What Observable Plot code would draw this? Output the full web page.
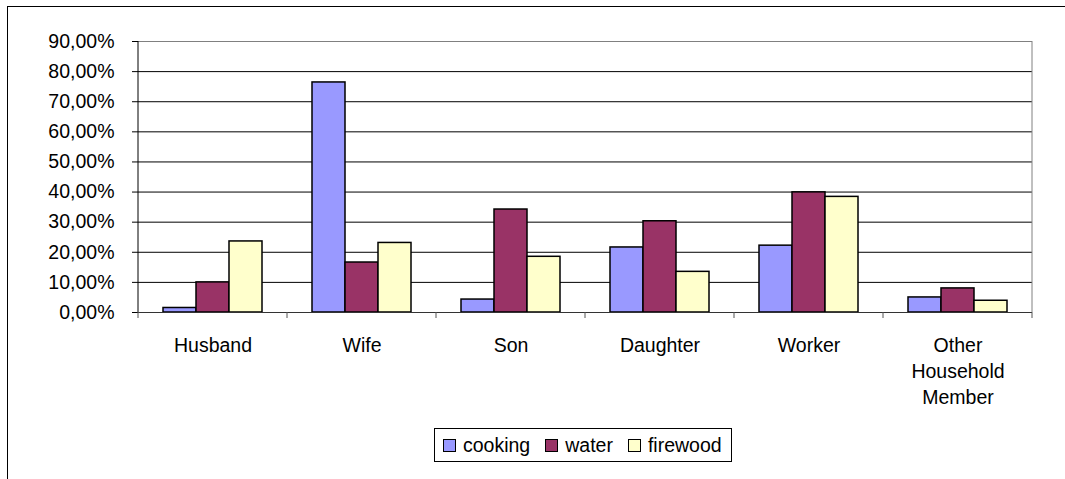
<!DOCTYPE html>
<html><head><meta charset="utf-8">
<script src="https://cdn.jsdelivr.net/npm/d3@7"></script>
<script src="https://cdn.jsdelivr.net/npm/@observablehq/plot@0.6"></script>
<style>
body{margin:0;background:#fff;font-family:"Liberation Sans",Arial,sans-serif;color:#000;}
#frame{position:absolute;left:7px;top:6px;width:1100px;height:500px;border:1px solid #000;}
#chart{position:absolute;left:0;top:0;}
#legend{position:absolute;left:434px;top:428px;width:298px;height:34px;border:1px solid #000;box-sizing:border-box;display:flex;align-items:center;padding-left:8px;font-size:19.5px;background:#fff;}
.item{display:flex;align-items:center;margin-right:15px;}
.sw{width:11px;height:11px;border:1px solid #000;margin-right:7px;}
</style></head><body>
<div id="frame"></div><div id="chart"></div><div id="legend"></div>
<script>
const categories = ["Husband","Wife","Son","Daughter","Worker","Other Household Member"];
const seriesNames = ["cooking","water","firewood"];
const cooking = [1.5,76.4,4.3,21.6,22.2,5.0];
const water = [10.0,16.6,34.2,30.3,39.9,8.0];
const firewood = [23.6,23.1,18.5,13.5,38.4,3.9];
const colors = ["#9999FF","#993366","#FFFFCC"];
const yTicks = [0,10,20,30,40,50,60,70,80,90];

const seriesValues = [cooking, water, firewood];
const data = [];
categories.forEach((c,i)=>seriesNames.forEach((s,j)=>data.push({category:c, series:s, value:seriesValues[j][i]})));

const fmt = d => d.toFixed(2).replace(".", ",") + "%";

const chart = Plot.plot({
  width: 1065, height: 420,
  marginLeft: 137, marginRight: 33, marginTop: 41, marginBottom: 108,
  style: {fontFamily: '"Liberation Sans", Arial, sans-serif', fontSize: "19.5px", color: "#000", background: "transparent", overflow: "visible"},
  fx: {domain: categories, padding: 0, label: null},
  x: {domain: seriesNames, paddingInner: 0, paddingOuter: 0.72, axis: null},
  y: {domain: [0, 90], label: null},
  color: {domain: seriesNames, range: colors},
  marks: [
    Plot.gridY(yTicks.slice(1, -1), {stroke: "#000", strokeOpacity: 1}),
    Plot.ruleY([90], {stroke: "#808080"}),
    Plot.barY(data, {fx: "category", x: "series", y: "value", fill: "series", stroke: "#000", strokeWidth: 1.5}),
    Plot.ruleY([0], {stroke: "#333"}),
    Plot.axisY({ticks: yTicks, tickFormat: fmt, tickSize: 6, tickPadding: 18, label: null}),
    Plot.axisFx({anchor: "bottom", tickSize: 0, tickPadding: 21, lineWidth: 6.5, lineHeight: 1.34, label: null})
  ]
});
document.getElementById("chart").appendChild(chart);

// axis lines and category boundary ticks from the library's scales
const fx = chart.scale("fx"), y = chart.scale("y");
const svg = d3.select(chart);
const bounds = categories.map(c => fx.apply(c)).concat([fx.apply(categories[categories.length-1]) + fx.bandwidth]);
const y0 = y.apply(0), yTop = y.apply(90);
svg.append("line").attr("x1", bounds[0]).attr("x2", bounds[0]).attr("y1", yTop).attr("y2", y0).attr("stroke", "#000");
svg.append("line").attr("x1", bounds[6]).attr("x2", bounds[6]).attr("y1", yTop).attr("y2", y0).attr("stroke", "#808080");
svg.append("g").selectAll("line").data(bounds).join("line")
  .attr("x1", d => d).attr("x2", d => d).attr("y1", y0).attr("y2", y0 + 6).attr("stroke", "#555");

const legend = document.getElementById("legend");
seriesNames.forEach((s,j)=>{
  const it = document.createElement("div"); it.className = "item";
  const sw = document.createElement("div"); sw.className = "sw"; sw.style.background = chart.scale("color").apply(s);
  const t = document.createElement("span"); t.textContent = s;
  it.appendChild(sw); it.appendChild(t); legend.appendChild(it);
});
</script>
</body></html>
